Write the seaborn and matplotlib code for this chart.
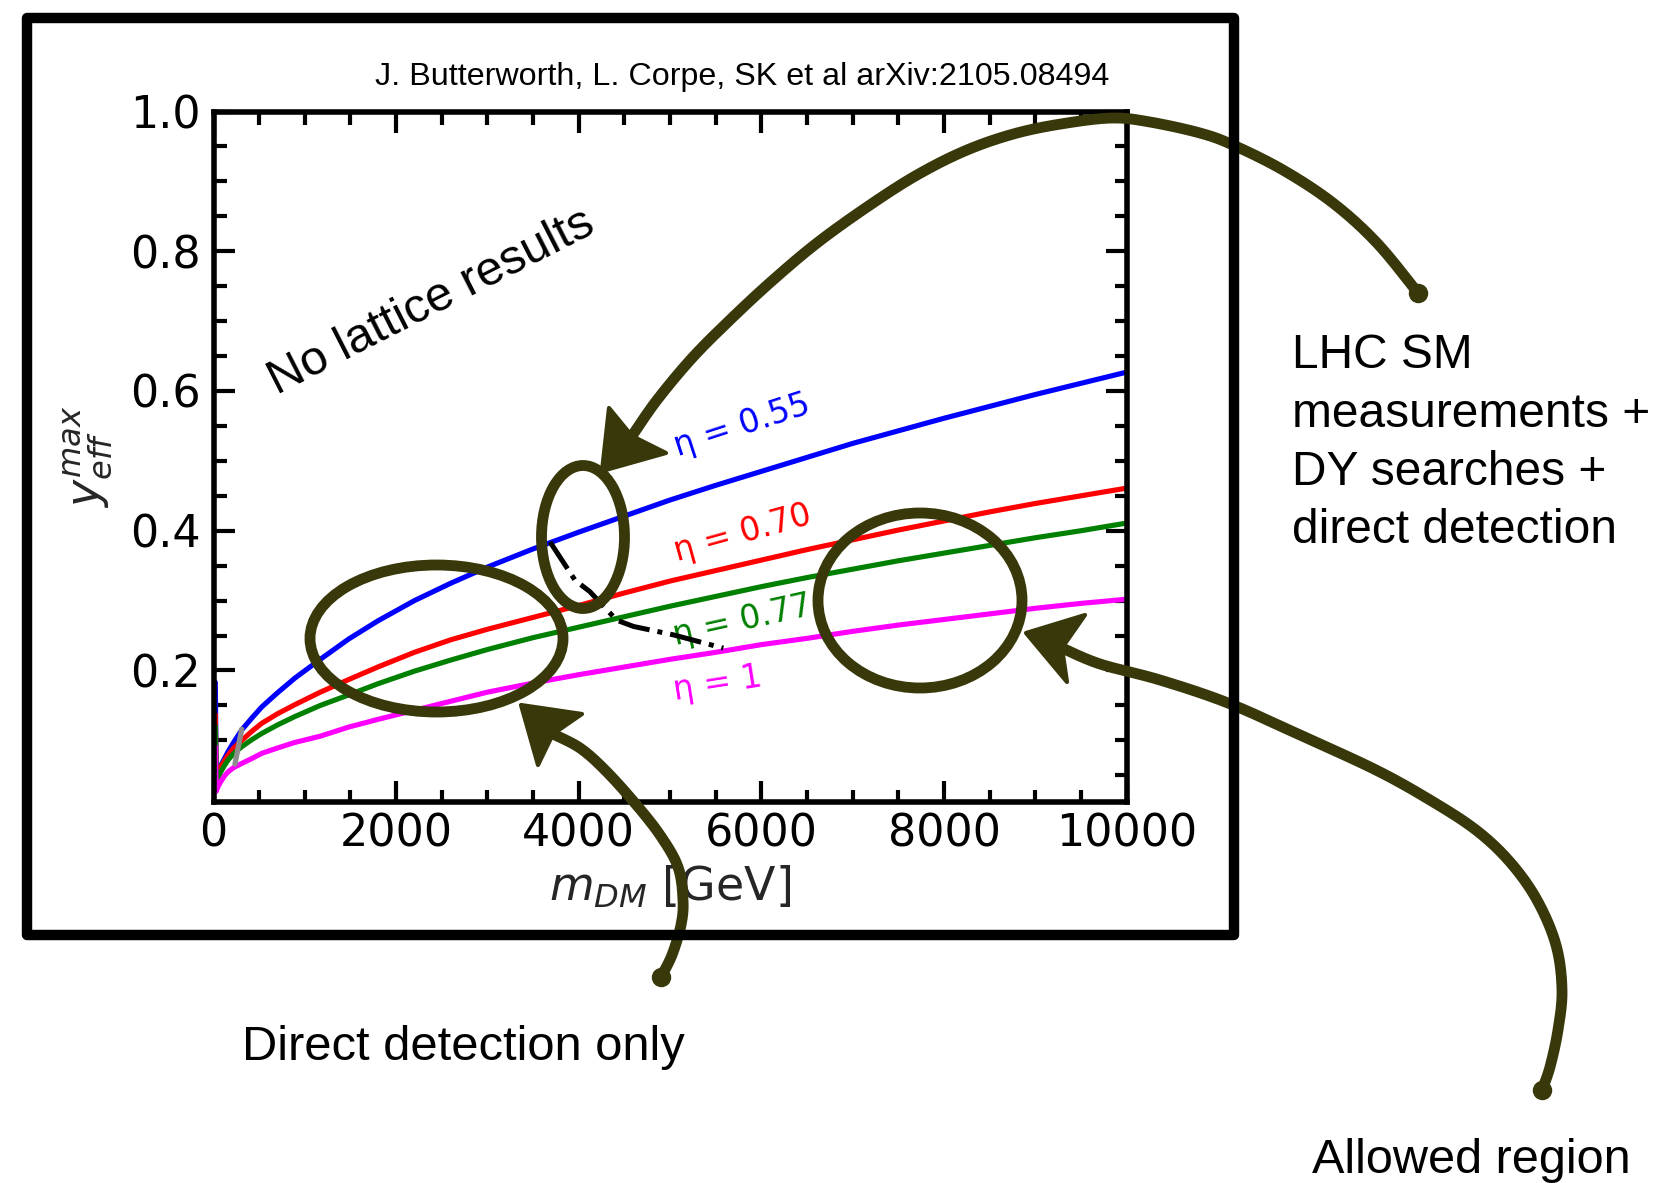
import numpy as np
import pandas as pd
import matplotlib
matplotlib.use("Agg")
import matplotlib.pyplot as plt
import seaborn as sns
from matplotlib.patches import Ellipse, Rectangle, Polygon
from matplotlib.ticker import MultipleLocator, FixedLocator

# ---------------- data ----------------
m_dm = [20, 30, 50, 80, 120, 160, 220, 310, 420, 530, 700, 890, 1170, 1480, 1800,
        2200, 2600, 3000, 3500, 4000, 4500, 5000, 5500, 6000, 6500, 7000, 7500,
        8000, 8500, 9000, 9500, 10000]
y_eta055 = [0.183, 0.048, 0.055, 0.064, 0.074, 0.084, 0.097, 0.115, 0.132, 0.148,
            0.168, 0.189, 0.216, 0.245, 0.271, 0.300, 0.325, 0.348, 0.374, 0.398,
            0.421, 0.444, 0.465, 0.485, 0.505, 0.525, 0.543, 0.561, 0.578, 0.595,
            0.611, 0.627]
y_eta070 = [0.137, 0.045, 0.053, 0.062, 0.071, 0.079, 0.089, 0.100, 0.113, 0.1245,
            0.138, 0.151, 0.169, 0.187, 0.205, 0.226, 0.244, 0.259, 0.276, 0.293,
            0.311, 0.328, 0.343, 0.358, 0.373, 0.387, 0.401, 0.414, 0.427, 0.439,
            0.450, 0.461]
y_eta077 = [0.120, 0.038, 0.046, 0.055, 0.064, 0.072, 0.081, 0.091, 0.101, 0.110,
            0.122, 0.134, 0.150, 0.165, 0.181, 0.199, 0.215, 0.230, 0.247, 0.262,
            0.277, 0.292, 0.306, 0.320, 0.333, 0.345, 0.357, 0.368, 0.379, 0.390,
            0.400, 0.411]
y_eta100 = [0.091, 0.027, 0.034, 0.041, 0.049, 0.055, 0.061, 0.067, 0.074, 0.0815,
            0.089, 0.097, 0.106, 0.119, 0.130, 0.143, 0.156, 0.169, 0.182, 0.194,
            0.205, 0.216, 0.226, 0.237, 0.246, 0.256, 0.265, 0.273, 0.281, 0.289,
            0.296, 0.302]

eta_names = ["η = 0.55", "η = 0.70", "η = 0.77", "η = 1"]
eta_colors = ["#0000ff", "#ff0000", "#008000", "#ff00ff"]

bound_m = [3685, 3960, 4120, 4415, 4600, 5035, 5583]
bound_y = [0.384, 0.329, 0.313, 0.272, 0.263, 0.251, 0.232]

gray_m = [309, 235]
gray_y = [0.116, 0.066]

x_ticks = [0, 2000, 4000, 6000, 8000, 10000]
y_ticks = [0.2, 0.4, 0.6, 0.8, 1.0]

title_text = "J. Butterworth, L. Corpe, SK et al arXiv:2105.08494"
lhc_lines = ["LHC SM", "measurements +", "DY searches +", "direct detection"]

# ---------------- style ----------------
sns.set_theme(style="ticks")
plt.rcParams["font.family"] = ["DejaVu Sans"]
plt.rcParams["mathtext.fontset"] = "dejavusans"

W, H = 1660, 1183
fig = plt.figure(figsize=(W / 100, H / 100), dpi=100)
fig.patch.set_facecolor("white")

ax_l, ax_r, ax_t, ax_b = 213.5, 1126.7, 111.5, 801.7
ax = fig.add_axes([ax_l / W, 1 - ax_b / H, (ax_r - ax_l) / W, (ax_b - ax_t) / H])
ax.set_facecolor("white")

df = pd.DataFrame({
    "m": m_dm * 4,
    "y": y_eta055 + y_eta070 + y_eta077 + y_eta100,
    "eta": sum([[n] * len(m_dm) for n in eta_names], []),
})
sns.lineplot(data=df, x="m", y="y", hue="eta", hue_order=eta_names,
             palette=eta_colors, legend=False, estimator=None,
             sort=False, ax=ax)
for ln in ax.lines:
    ln.set_linewidth(3.7)
    ln.set_solid_joinstyle("round")

sns.lineplot(x=bound_m, y=bound_y, color="black", estimator=None, sort=False,
             ax=ax)
bl = ax.lines[-1]
bl.set_linewidth(3.6)
bl.set_linestyle("-.")
bl.set_zorder(4)

sns.lineplot(x=gray_m, y=gray_y, color="#8c8c8c", estimator=None, sort=False,
             ax=ax)
gl = ax.lines[-1]
gl.set_linewidth(3.8)
gl.set_zorder(4)

ax.set_xlim(0, 10000)
ax.set_ylim(0.0122, 1.0)
ax.xaxis.set_major_locator(FixedLocator(x_ticks))
ax.xaxis.set_minor_locator(MultipleLocator(500))
ax.yaxis.set_major_locator(FixedLocator(y_ticks))
ax.yaxis.set_minor_locator(MultipleLocator(0.05))
ax.set_xticklabels([str(v) for v in x_ticks])
ax.set_yticklabels([f"{v:.1f}" for v in y_ticks])

for s in ax.spines.values():
    s.set_linewidth(4)
    s.set_color("black")
    s.set_visible(True)
ax.tick_params(which="both", direction="in", top=True, right=True,
               width=3, color="black", labelcolor="black")
ax.tick_params(which="major", length=15, labelsize=32)
ax.tick_params(which="minor", length=9)
ax.tick_params(axis="x", which="major", pad=8)
ax.tick_params(axis="y", which="major", pad=9)

ax.set_xlabel("$m_{DM}$ [GeV]", fontsize=33, labelpad=6)
ax.set_ylabel("$y_{eff}^{max}$", fontsize=33, labelpad=12)

# curve labels
lab_pos = [(5080, 0.506, 18), (5072, 0.356, 15.5), (5054, 0.2365, 12.5), (5054, 0.158, 9)]
for (xm, yv, rot), name, col in zip(lab_pos, eta_names, eta_colors):
    ax.text(xm, yv, name, color=col, fontsize=23.5, rotation=rot,
            rotation_mode="anchor", ha="left", va="baseline",
            family="DejaVu Sans")

ax.text(695, 0.594, "No lattice results", fontsize=35, rotation=27,
        rotation_mode="anchor", ha="left", va="baseline",
        family="Liberation Sans", color="black")

# ---------------- figure texts ----------------
def fx(px):
    return px / W


def fy(py):
    return 1 - py / H


fig.text(fx(1109), fy(85), title_text, ha="right", va="baseline",
         fontsize=23.2, family="Liberation Sans", color="black")
for i, line in enumerate(lhc_lines):
    fig.text(fx(1292), fy(368.3 + 58.3 * i), line, ha="left", va="baseline",
             fontsize=34.5, family="Liberation Sans", color="black")
fig.text(fx(241.5), fy(1060), "Direct detection only", ha="left", va="baseline",
         fontsize=35.2, family="Liberation Sans", color="black")
fig.text(fx(1312), fy(1173), "Allowed region", ha="left", va="baseline",
         fontsize=35, family="Liberation Sans", color="black")

# ---------------- hand-drawn annotation overlay ----------------
ov = fig.add_axes([0, 0, 1, 1], zorder=5)
ov.set_xlim(0, W)
ov.set_ylim(H, 0)
ov.axis("off")
ov.patch.set_visible(False)

olive = "#38380a"
LW = 7.8


def catmull(pts, n=24):
    p = np.asarray(pts, float)
    p = np.vstack([p[0], p, p[-1]])
    out = []
    t = np.linspace(0, 1, n, endpoint=False)[:, None]
    for i in range(1, len(p) - 2):
        p0, p1, p2, p3 = p[i - 1], p[i], p[i + 1], p[i + 2]
        out.append(0.5 * ((2 * p1) + (-p0 + p2) * t
                          + (2 * p0 - 5 * p1 + 4 * p2 - p3) * t ** 2
                          + (-p0 + 3 * p1 - 3 * p2 + p3) * t ** 3))
    out.append(p[-2][None, :])
    return np.vstack(out)


arrow_paths = [
    [(1418, 293), (1377, 243), (1333, 203), (1283, 170), (1233, 145), (1200, 133),
     (1150, 122), (1113, 118), (1067, 123), (1017, 133), (967, 150), (917, 175),
     (867, 207), (817, 243), (773, 280), (733, 317), (693, 357), (657, 400),
     (632, 436)],
    [(661, 977), (672, 955), (681, 925), (683, 900), (678, 867), (660, 835),
     (634, 802), (605, 770), (580, 748), (553, 734)],
    [(1542, 1090), (1550, 1067), (1558, 1030), (1562, 990), (1556, 945), (1537, 900),
     (1510, 862), (1476, 830), (1430, 800), (1376, 770), (1300, 735), (1228, 703),
     (1160, 680), (1100, 664), (1062, 648)],
]
arrow_heads = [
    [(602, 471), (609, 408), (632, 436), (666, 453)],
    [(521, 705), (582, 714), (553, 734), (538, 765)],
    [(1026, 633), (1085, 615), (1062, 648), (1067, 682)],
]

for pts in arrow_paths:
    c = catmull(pts)
    ov.plot(c[:, 0], c[:, 1], color=olive, lw=LW, solid_capstyle="round",
            solid_joinstyle="round", zorder=2)
    ov.plot([pts[0][0]], [pts[0][1]], "o", color=olive, ms=13, zorder=2)
for hd in arrow_heads:
    ov.add_patch(Polygon(hd, closed=True, facecolor=olive, edgecolor=olive,
                         lw=3, joinstyle="round", zorder=2))

for (cx, cy, w, h) in [(583, 537, 83, 143), (436.5, 638.5, 253, 147), (920, 600.5, 204, 175)]:
    ov.add_patch(Ellipse((cx, cy), w, h, facecolor="none", edgecolor=olive,
                         lw=LW, zorder=2))

ov.add_patch(Rectangle((27, 18), 1234 - 27, 935 - 18, facecolor="none",
                       edgecolor="black", lw=7.5, joinstyle="round", zorder=3))

# hide the left-side minor tick at 0.05 (absent in the reference)
fig.canvas.draw()
for t in ax.yaxis.get_minor_ticks():
    if abs(t.get_loc() - 0.05) < 1e-9:
        t.tick1line.set_visible(False)

fig.savefig("out.png", dpi=100, facecolor="white")
